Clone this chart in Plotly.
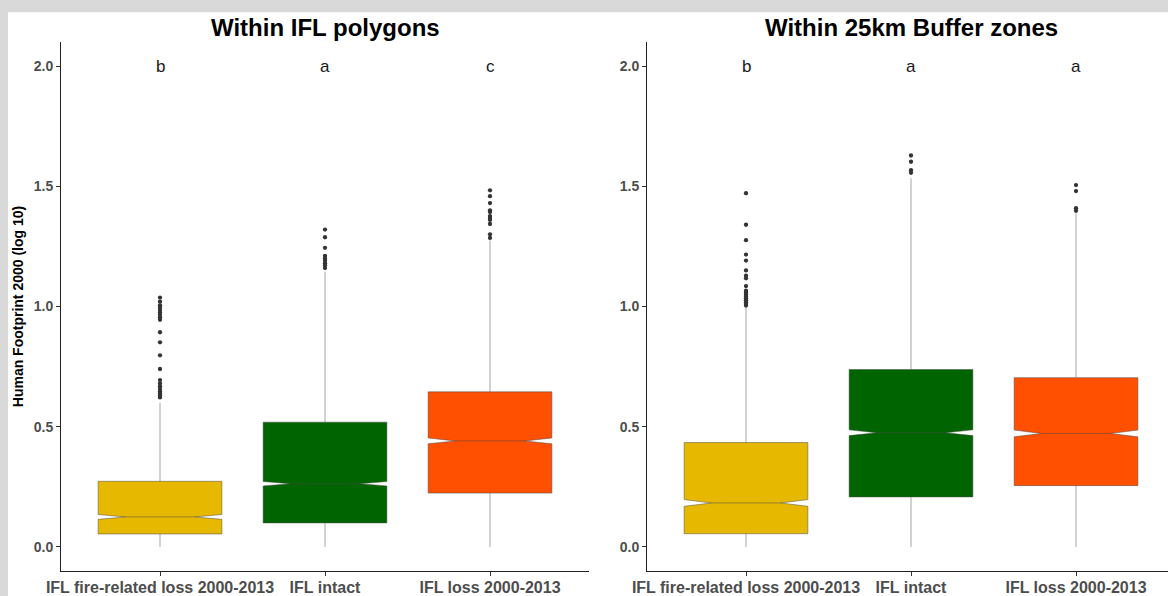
import plotly.graph_objects as go

# Groups compared in both panels
categories = ["IFL fire-related loss 2000-2013", "IFL intact", "IFL loss 2000-2013"]
box_colors = ["#E6B800", "#006400", "#FF4F00"]

# Panel 1: within IFL polygons (log10 Human Footprint 2000)
ifl_q1 = [0.054, 0.100, 0.224]
ifl_median = [0.125, 0.263, 0.441]
ifl_q3 = [0.273, 0.519, 0.645]
ifl_lower = [0.0, 0.0, 0.0]
ifl_upper = [0.600, 1.145, 1.275]
ifl_notch = [0.010, 0.009, 0.012]
ifl_outliers = [
    [1.037, 1.020, 1.005, 0.995, 0.985, 0.975, 0.965, 0.955, 0.945, 0.893, 0.851,
     0.797, 0.740, 0.694, 0.680, 0.668, 0.657, 0.647, 0.638, 0.630, 0.622],
    [1.320, 1.288, 1.244, 1.210, 1.200, 1.190, 1.180, 1.170, 1.160],
    [1.483, 1.459, 1.430, 1.400, 1.393, 1.376, 1.368, 1.360, 1.343, 1.300, 1.285],
]
ifl_letters = ["b", "a", "c"]

# Panel 2: within 25 km buffer zones
buf_q1 = [0.055, 0.208, 0.255]
buf_median = [0.183, 0.475, 0.472]
buf_q3 = [0.434, 0.738, 0.704]
buf_lower = [0.0, 0.0, 0.0]
buf_upper = [0.995, 1.533, 1.388]
buf_notch = [0.014, 0.012, 0.014]
buf_outliers = [
    [1.471, 1.340, 1.276, 1.216, 1.191, 1.150, 1.128, 1.117, 1.085, 1.066, 1.058,
     1.050, 1.042, 1.034, 1.026, 1.018, 1.010, 1.004],
    [1.628, 1.602, 1.567, 1.556],
    [1.505, 1.480, 1.409, 1.398],
]
buf_letters = ["b", "a", "a"]

y_ticks = [0.0, 0.5, 1.0, 1.5, 2.0]
y_tick_text = ["0.0", "0.5", "1.0", "1.5", "2.0"]

W, H = 1168, 596
M_L, M_R, M_T, M_B = 61, 0, 42, 21
plot_w = W - M_L - M_R
plot_h = H - M_T - M_B
unit_px = 165.0  # pixels per category step

left_dom = [0.0, (3.2 * unit_px) / plot_w]
right_start = (647 - M_L) / plot_w
right_dom = [right_start, 1.0]
right_max = -0.6 + (W - 647) / unit_px

FONT = "Liberation Sans, Arial, sans-serif"

fig = go.Figure()

panels = [
    ("x", "y", ifl_q1, ifl_median, ifl_q3, ifl_lower, ifl_upper, ifl_notch, ifl_outliers, ifl_letters),
    ("x2", "y2", buf_q1, buf_median, buf_q3, buf_lower, buf_upper, buf_notch, buf_outliers, buf_letters),
]

for xa, ya, q1, med, q3, lo, hi, notch, outl, letters in panels:
    for i, cat in enumerate(categories):
        fig.add_trace(go.Box(
            x=[cat], q1=[q1[i]], median=[med[i]], q3=[q3[i]],
            lowerfence=[lo[i]], upperfence=[hi[i]],
            notched=True, notchspan=[notch[i]], notchwidth=0.22,
            width=0.75, whiskerwidth=0,
            fillcolor=box_colors[i],
            line=dict(color="#4a4a4a", width=0.5),
            boxpoints=False, showlegend=False, hoverinfo="skip",
            xaxis=xa, yaxis=ya,
        ))
        fig.add_trace(go.Scatter(
            x=[cat] * len(outl[i]), y=outl[i], mode="markers",
            marker=dict(color="#333333", size=4.3),
            showlegend=False, hoverinfo="skip",
            xaxis=xa, yaxis=ya,
        ))
        fig.add_annotation(
            x=cat, y=2.0, xref=xa, yref=ya, text=letters[i], showarrow=False,
            font=dict(family=FONT, size=17, color="#1a1a1a"),
        )

axis_common = dict(
    showline=True, linecolor="#222222", linewidth=1,
    ticks="outside", ticklen=4, tickcolor="#333333", tickwidth=1,
    showgrid=False, zeroline=False,
)
x_font = dict(family=FONT, size=16, color="#4d4d4d", weight="bold")
y_font = dict(family=FONT, size=14, color="#4d4d4d", weight="bold")

fig.update_layout(
    width=W, height=H,
    margin=dict(l=M_L, r=M_R, t=M_T, b=M_B, pad=0),
    paper_bgcolor="#d9d9d9", plot_bgcolor="white",
    hovermode=False, boxmode="overlay",
    xaxis=dict(domain=left_dom, type="category", categoryorder="array",
               categoryarray=categories, range=[-0.6, 2.6], anchor="y",
               tickfont=x_font, ticklabelstandoff=-2, **axis_common),
    yaxis=dict(domain=[0, 1], range=[-0.1, 2.1], tickvals=y_ticks, ticktext=y_tick_text,
               anchor="x", tickfont=y_font, **axis_common,
               title=dict(text="Human Footprint 2000 (log 10)", standoff=6,
                          font=dict(family=FONT, size=14, color="black", weight="bold"))),
    xaxis2=dict(domain=right_dom, type="category", categoryorder="array",
                categoryarray=categories, range=[-0.6, right_max], anchor="y2",
                tickfont=x_font, ticklabelstandoff=-2, **axis_common),
    yaxis2=dict(domain=[0, 1], range=[-0.1, 2.1], tickvals=y_ticks, ticktext=y_tick_text,
                anchor="x2", tickfont=y_font, **axis_common),
    shapes=[dict(
        type="rect", xref="paper", yref="paper", layer="below",
        x0=-(M_L - 8) / plot_w, x1=1.02,
        y0=-(M_B + 5) / plot_h, y1=1 + (M_T - 12) / plot_h,
        fillcolor="white", line=dict(width=0),
    )],
)

# Panel titles
title_y = 1 + (M_T - 27) / plot_h
for text, dom in [("Within IFL polygons", left_dom),
                  ("Within 25km Buffer zones", [right_start, right_start + 3.2 * unit_px / plot_w])]:
    fig.add_annotation(
        x=(dom[0] + dom[1]) / 2, y=title_y, xref="paper", yref="paper",
        text=f"<b>{text}</b>", showarrow=False, xanchor="center", yanchor="middle",
        font=dict(family=FONT, size=24, color="black"),
    )

fig.write_html("out.html")
